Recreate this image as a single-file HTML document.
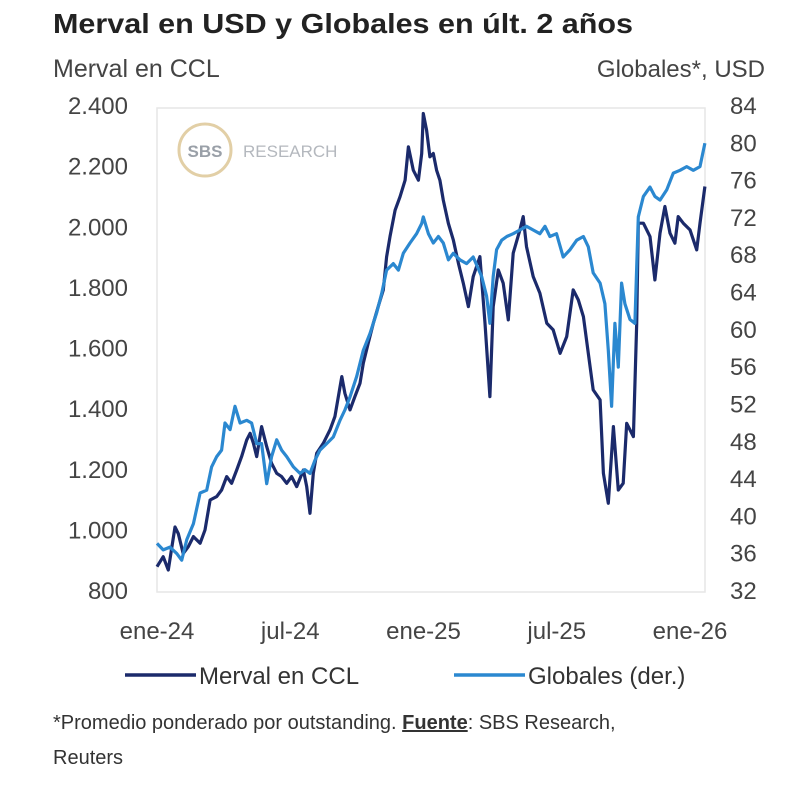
<!DOCTYPE html>
<html><head><meta charset="utf-8"><style>
html,body{margin:0;padding:0;background:#fff;}
svg{display:block;font-family:"Liberation Sans",sans-serif;}
</style></head><body>
<svg id="chart" width="800" height="791" viewBox="0 0 800 791">
<text x="53" y="33" font-size="28" font-weight="bold" fill="#222" textLength="580" lengthAdjust="spacingAndGlyphs">Merval en USD y Globales en últ. 2 años</text>
<text x="53" y="77" font-size="25" fill="#444">Merval en CCL</text>
<text x="765" y="77" font-size="24" fill="#444" text-anchor="end">Globales*, USD</text>
<rect x="157" y="108" width="548" height="484" fill="#fff" stroke="#e6e6e6" stroke-width="1.5"/>
<g>
<circle cx="205" cy="150" r="26" fill="none" stroke="#e2cfa6" stroke-width="3"/>
<text x="205" y="157" font-size="17" font-weight="bold" fill="#9aa0a8" text-anchor="middle">SBS</text>
<text x="243" y="157" font-size="17" fill="#b4b8be">RESEARCH</text>
</g>
<g id="leftTicks"></g><g id="rightTicks"></g><g id="xTicks"></g><g id="series"></g>
<g>
<g>
<line x1="125" y1="675" x2="196" y2="675" stroke="#1b2a6b" stroke-width="3.5"/>
<text x="199" y="684" font-size="24" fill="#333">Merval en CCL</text></g>
<g>
<line x1="454" y1="675" x2="525" y2="675" stroke="#2b88d0" stroke-width="3.5"/>
<text x="528" y="684" font-size="24" fill="#333">Globales (der.)</text></g>
</g>
<text x="53" y="729" font-size="20" fill="#333">*Promedio ponderado por outstanding. <tspan font-weight="bold" text-decoration="underline">Fuente</tspan>: SBS Research,</text>
<text x="53" y="764" font-size="20" fill="#333">Reuters</text>
</svg>
<script>
const leftTickValues=[800,1000,1200,1400,1600,1800,2000,2200,2400];
const leftTickLabels=["800","1.000","1.200","1.400","1.600","1.800","2.000","2.200","2.400"];
const rightTickValues=[32,36,40,44,48,52,56,60,64,68,72,76,80,84];
const xTickMonths=[0,6,12,18,24];
const xTickLabels=["ene-24","jul-24","ene-25","jul-25","ene-26"];
const mervalMonths=[0,0.28,0.51,0.81,0.96,1.18,1.41,1.64,1.94,2.16,2.39,2.69,2.91,3.14,3.36,3.59,3.81,4.04,4.19,4.34,4.49,4.71,4.94,5.16,5.39,5.61,5.84,6.06,6.29,6.59,6.74,6.89,7.04,7.19,7.49,7.79,8.01,8.32,8.46,8.69,8.91,9.14,9.29,9.51,9.74,9.96,10.19,10.34,10.49,10.72,10.94,11.17,11.32,11.54,11.77,11.92,11.99,12.14,12.29,12.44,12.59,12.74,12.89,13.12,13.34,13.57,13.79,14.02,14.24,14.54,14.77,14.99,15.14,15.37,15.59,15.82,16.04,16.34,16.49,16.64,16.94,17.24,17.55,17.84,18.15,18.45,18.74,18.97,19.2,19.42,19.64,19.95,20.1,20.32,20.55,20.77,20.99,21.15,21.45,21.6,21.67,21.9,22.2,22.42,22.65,22.87,23.1,23.32,23.47,23.7,24,24.3,24.45,24.67];
const mervalValues=[877,910,866,1008,986,920,943,976,954,998,1097,1108,1130,1174,1152,1196,1240,1295,1317,1284,1240,1339,1273,1218,1185,1174,1152,1174,1141,1196,1141,1053,1185,1251,1284,1328,1372,1504,1449,1394,1438,1482,1548,1614,1680,1735,1790,1899,1966,2053,2097,2152,2262,2185,2152,2240,2372,2317,2229,2240,2185,2152,2086,2009,1955,1878,1812,1735,1834,1900,1680,1438,1735,1856,1812,1691,1911,1988,2032,1933,1834,1779,1680,1658,1581,1636,1790,1757,1702,1581,1460,1427,1185,1086,1339,1130,1152,1350,1306,1680,2010,2010,1966,1823,1977,2065,1977,1944,2032,2010,1988,1922,2010,2131];
const globalesMonths=[0,0.28,0.58,0.89,1.11,1.34,1.64,1.94,2.24,2.46,2.69,2.91,3.06,3.29,3.51,3.74,4.04,4.26,4.49,4.71,4.94,5.16,5.39,5.61,5.84,6.14,6.44,6.66,6.89,7.11,7.34,7.64,7.94,8.24,8.46,8.69,8.99,9.29,9.59,9.89,10.12,10.34,10.64,10.87,11.09,11.39,11.69,11.92,11.99,12.22,12.44,12.67,12.89,13.12,13.34,13.64,13.94,14.24,14.62,14.84,14.99,15.14,15.29,15.52,15.75,16.04,16.34,16.64,16.94,17.24,17.47,17.69,17.99,18.29,18.6,18.9,19.2,19.42,19.64,19.95,20.17,20.32,20.47,20.62,20.77,20.92,21.07,21.3,21.52,21.67,21.9,22.2,22.42,22.65,22.95,23.25,23.55,23.85,24.15,24.45,24.67];
const globalesValues=[37.0,36.3,36.6,35.9,35.2,37.4,39.1,42.4,42.7,45.2,46.3,47.0,49.9,49.2,51.7,49.9,50.2,49.9,47.7,47.7,43.4,46.3,48.1,47.0,46.3,45.2,44.5,44.9,44.5,45.9,47.0,47.7,48.4,50.2,51.3,52.7,54.9,57.7,59.5,61.7,63.8,66.3,67.0,66.3,68.1,69.2,70.2,71.3,72.0,70.2,69.2,69.9,69.2,67.4,68.1,67.4,67.0,67.7,65.6,63.5,60.6,65.6,68.5,69.5,69.9,70.2,70.6,71.0,70.6,70.2,71.0,69.9,70.2,67.7,68.5,69.5,69.9,68.8,66.0,64.9,62.7,57.7,51.7,60.6,55.9,64.9,62.7,61.0,60.6,72.0,74.2,75.2,74.2,73.8,74.9,76.7,77.0,77.4,77.0,77.4,79.9];

const NS="http://www.w3.org/2000/svg";
const xS=m=>157+m*(533/24);
const yL=v=>590-(v-800)/1600*485;
const yR=v=>590-(v-32)/52*485;
function mk(tag,attrs,parent){const e=document.createElementNS(NS,tag);for(const k in attrs)e.setAttribute(k,attrs[k]);parent.appendChild(e);return e;}
const lt=document.getElementById('leftTicks');
leftTickValues.forEach((v,i)=>{const t=mk('text',{x:128,y:yL(v)+9,'font-size':24,fill:'#444','text-anchor':'end'},lt);t.textContent=leftTickLabels[i];

});
const rt=document.getElementById('rightTicks');
rightTickValues.forEach(v=>{const t=mk('text',{x:730,y:yR(v)+9,'font-size':24,fill:'#444'},rt);t.textContent=String(v);

});
const xt=document.getElementById('xTicks');
xTickMonths.forEach((m,i)=>{const t=mk('text',{x:xS(m),y:639,'font-size':24,fill:'#444','text-anchor':'middle'},xt);t.textContent=xTickLabels[i];

});
const sg=document.getElementById('series');
const pm=mervalMonths.map((m,i)=>xS(m).toFixed(1)+','+yL(mervalValues[i]).toFixed(1)).join(' ');
const pg=globalesMonths.map((m,i)=>xS(m).toFixed(1)+','+yR(globalesValues[i]).toFixed(1)).join(' ');
const l1=mk('polyline',{points:pm,fill:'none',stroke:'#1b2a6b','stroke-width':3.2,'stroke-linejoin':'round'},sg);


const l2=mk('polyline',{points:pg,fill:'none',stroke:'#2b88d0','stroke-width':3.2,'stroke-linejoin':'round'},sg);


</script>
</body></html>
